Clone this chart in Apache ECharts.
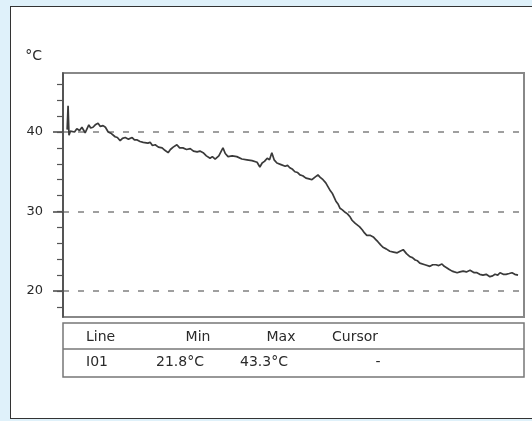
<!DOCTYPE html>
<html>
<head>
<meta charset="utf-8">
<style>
  html, body { margin: 0; padding: 0; background: #dff1fa; }
  #panel { position: absolute; left: 10px; top: 6px; width: 540px; height: 411px; background: #fff; border-left: 1.5px solid #333; border-top: 1.5px solid #333; border-bottom: 1.5px solid #333; }
  #chart { position: absolute; left: 0; top: 0; width: 532px; height: 421px; }
</style>
<script src="https://cdn.jsdelivr.net/npm/echarts@6/dist/echarts.min.js"></script>
</head>
<body>
<div id="panel"></div>
<div id="chart"></div>
<script>
// Sample time (relative units across the recording) and temperature (°C)
const times = [0.9, 1.1, 1.3, 1.6, 2.0, 2.5, 3.0, 3.6, 4.1, 4.8, 5.2, 5.6, 6.0, 6.5, 7.0, 7.6, 8.1, 8.7, 9.2, 9.8, 10.5, 11.3, 11.8, 12.4, 12.9, 13.5, 14.2, 15.0, 15.5, 16.1, 16.7, 17.4, 18.4, 18.9, 19.4, 20.0, 20.7, 21.5, 22.1, 22.8, 23.3, 23.9, 24.3, 24.7, 25.3, 26.0, 26.8, 27.6, 28.3, 29.1, 29.7, 30.4, 31.1, 31.9, 32.4, 33.0, 33.8, 34.7, 35.2, 35.8, 36.7, 37.7, 38.8, 39.9, 41.0, 42.1, 42.7, 43.2, 43.7, 44.3, 44.8, 45.3, 45.8, 46.4, 47.3, 48.2, 48.7, 49.2, 49.8, 50.3, 50.9, 51.4, 52.0, 52.7, 53.4, 54.0, 54.6, 55.3, 55.8, 56.4, 57.0, 57.5, 58.0, 58.4, 58.8, 59.2, 59.7, 60.1, 60.6, 61.2, 61.7, 62.3, 62.7, 63.1, 63.4, 63.8, 64.3, 64.9, 65.4, 65.9, 66.6, 67.3, 67.8, 68.3, 68.9, 69.4, 70.1, 70.9, 71.7, 72.5, 73.1, 73.8, 74.5, 75.3, 75.8, 76.4, 76.9, 77.4, 78.5, 79.6, 80.2, 80.9, 81.5, 82.2, 82.7, 83.3, 83.8, 84.4, 84.9, 85.5, 86.1, 86.8, 87.5, 88.3, 88.7, 89.2, 89.8, 90.4, 91.1, 91.8, 92.6, 93.2, 93.7, 94.3, 94.8, 95.5, 96.1, 96.8, 97.4, 98.0, 98.7];
const temps = [40.3, 43.3, 39.6, 40.1, 40.3, 40.0, 40.4, 40.2, 40.6, 39.9, 40.4, 40.9, 40.5, 40.6, 40.9, 41.1, 40.7, 40.8, 40.6, 40.0, 39.8, 39.4, 39.3, 38.9, 39.2, 39.3, 39.1, 39.3, 39.0, 39.0, 38.8, 38.7, 38.6, 38.7, 38.3, 38.4, 38.1, 38.0, 37.7, 37.4, 37.8, 38.1, 38.0, 38.4, 38.0, 38.0, 37.8, 37.9, 37.6, 37.5, 37.6, 37.4, 37.0, 36.7, 36.9, 36.6, 37.0, 38.0, 37.3, 36.9, 37.0, 36.9, 36.6, 36.5, 36.4, 36.2, 35.6, 36.1, 36.3, 36.7, 36.5, 37.4, 36.5, 36.1, 35.9, 35.7, 35.8, 35.5, 35.3, 35.0, 34.9, 34.6, 34.5, 34.2, 34.1, 34.0, 34.3, 34.6, 34.3, 34.0, 33.6, 33.1, 32.6, 32.3, 31.8, 31.3, 30.9, 30.4, 30.2, 29.9, 29.7, 29.3, 28.9, 28.7, 28.5, 28.3, 28.1, 27.7, 27.3, 27.0, 27.0, 26.8, 26.5, 26.2, 25.8, 25.5, 25.3, 25.0, 24.9, 24.8, 25.0, 25.2, 24.7, 24.3, 24.2, 23.9, 23.8, 23.5, 23.3, 23.1, 23.3, 23.3, 23.2, 23.4, 23.1, 22.9, 22.7, 22.5, 22.4, 22.3, 22.4, 22.5, 22.4, 22.6, 22.4, 22.3, 22.3, 22.1, 22.0, 22.1, 21.8, 21.9, 22.1, 22.0, 22.3, 22.1, 22.1, 22.2, 22.3, 22.1, 22.0];

const yMajorTicks = [20, 30, 40];
const yMinorTicks = [18, 20, 22, 24, 26, 28, 30, 32, 34, 36, 38, 40, 42, 44, 46];
const yUnit = '°C';

const tableHeaders = ['Line', 'Min', 'Max', 'Cursor'];
const tableRow = ['I01', '21.8°C', '43.3°C', '-'];

const YMIN = 16.73, YMAX = 47.42;

const chart = echarts.init(document.getElementById('chart'), null, { renderer: 'canvas' });

const FONT = 'DejaVu Sans';
const headerX = [86, 198, 281, 355];
const rowX = [86, 180, 264, 378];
const textEls = [];
tableHeaders.forEach((t, i) => {
  textEls.push({ type: 'text', x: headerX[i], y: 337, style: { text: t, font: '14px ' + FONT, fill: '#2a2a2a', textAlign: i === 0 ? 'left' : 'center', textVerticalAlign: 'middle' } });
});
tableRow.forEach((t, i) => {
  textEls.push({ type: 'text', x: rowX[i], y: 362, style: { text: t, font: '14px ' + FONT, fill: '#2a2a2a', textAlign: i === 0 ? 'left' : 'center', textVerticalAlign: 'middle' } });
});

chart.setOption({
  animation: false,
  backgroundColor: 'transparent',
  grid: { left: 63, top: 73, width: 461, height: 244, show: true, borderColor: '#888', borderWidth: 2, backgroundColor: 'transparent', containLabel: false, outerBoundsMode: 'none' },
  xAxis: {
    type: 'value', min: 0, max: 100,
    axisLine: { show: false }, axisTick: { show: false }, axisLabel: { show: false }, splitLine: { show: false }
  },
  yAxis: [
    {
      type: 'value', min: YMIN, max: YMAX, position: 'left',
      name: yUnit, nameLocation: 'end', nameGap: 10,
      nameTextStyle: { fontFamily: FONT, fontSize: 14, color: '#2a2a2a', align: 'right', verticalAlign: 'bottom', padding: [0, 21, 0, 0] },
      axisLine: { show: true, lineStyle: { color: '#444', width: 1.5 } },
      axisTick: { show: true, customValues: yMajorTicks, length: 10, lineStyle: { color: '#444', width: 1.5 } },
      axisLabel: { show: true, customValues: yMajorTicks, margin: 20, fontFamily: FONT, fontSize: 13, color: '#2a2a2a' },
      splitLine: { show: true, lineStyle: { color: '#808080', width: 1.5, type: [6, 9] } }
    },
    {
      type: 'value', min: YMIN, max: YMAX, position: 'left', offset: 0,
      axisLine: { show: false },
      axisTick: { show: true, customValues: yMinorTicks, length: 6, lineStyle: { color: '#555', width: 1.2 } },
      axisLabel: { show: false },
      splitLine: { show: false }
    }
  ],
  series: [{
    type: 'line',
    data: times.map((t, i) => [t, temps[i]]),
    showSymbol: false,
    lineStyle: { color: '#3a3a3a', width: 1.7 },
    z: 5
  }],
  graphic: [
    { type: 'rect', shape: { x: 63, y: 323, width: 461, height: 54 }, style: { fill: 'none', stroke: '#777', lineWidth: 1.5 } },
    { type: 'line', shape: { x1: 63, y1: 349, x2: 524, y2: 349 }, style: { stroke: '#777', lineWidth: 1.5 } },
    ...textEls
  ]
});
</script>
</body>
</html>
